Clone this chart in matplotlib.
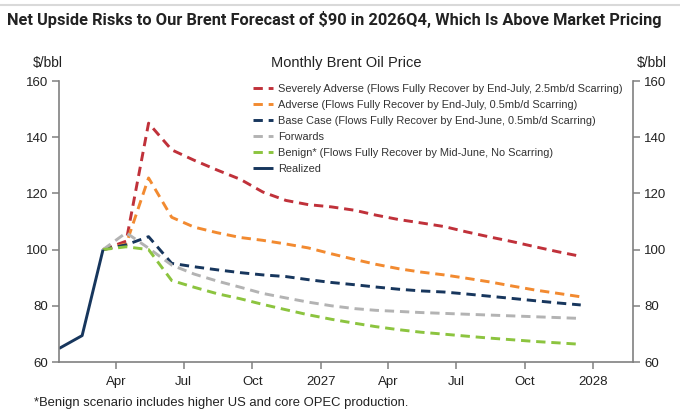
import matplotlib
matplotlib.use("Agg")
import matplotlib.pyplot as plt
import datetime as dt

# ---- data ----
realized_months = ["2026-01", "2026-02", "2026-03"]
realized = [64.8, 69.4, 100.0]

forecast_months = ["2026-03", "2026-04", "2026-05", "2026-06", "2026-07", "2026-08",
                   "2026-09", "2026-10", "2026-11", "2026-12", "2027-01", "2027-02",
                   "2027-03", "2027-04", "2027-05", "2027-06", "2027-07", "2027-08",
                   "2027-09", "2027-10", "2027-11", "2027-12"]
severely_adverse = [100, 103, 145, 135.5, 131.8, 128.3, 125, 120.5, 117.5, 116, 115.2, 114,
                    112.3, 110.7, 109.5, 108.2, 106.3, 104.5, 102.8, 101, 99.2, 97.6]
adverse = [100, 102, 125.5, 111.5, 108, 106, 104.3, 103.3, 102, 100.6, 98.5, 96.5,
           94.8, 93.2, 92, 91, 89.8, 88.5, 87, 85.6, 84.4, 83.2]
base_case = [100, 101.7, 104.6, 95.1, 93.9, 92.8, 91.8, 91, 90.4, 89.3, 88.3, 87.5,
             86.7, 85.9, 85.3, 84.9, 84.2, 83.4, 82.6, 81.8, 81, 80.3]
forwards = [100, 106, 100.5, 94.5, 91.3, 88.8, 86.6, 84.4, 82.8, 81.3, 80, 79,
            78.4, 78, 77.6, 77.3, 77, 76.7, 76.4, 76.1, 75.8, 75.5]
benign = [100, 101, 100, 89, 86.6, 84.3, 82.5, 80.5, 78.6, 76.8, 75.2, 73.8,
          72.6, 71.5, 70.6, 69.9, 69.2, 68.5, 67.9, 67.3, 66.8, 66.3]

labels = [
    "Severely Adverse (Flows Fully Recover by End-July, 2.5mb/d Scarring)",
    "Adverse (Flows Fully Recover by End-July, 0.5mb/d Scarring)",
    "Base Case (Flows Fully Recover by End-June, 0.5mb/d Scarring)",
    "Forwards",
    "Benign* (Flows Fully Recover by Mid-June, No Scarring)",
    "Realized",
]
tick_dates = ["2026-04", "2026-07", "2026-10", "2027-01", "2027-04", "2027-07", "2027-10", "2028-01"]
tick_labels = ["Apr", "Jul", "Oct", "2027", "Apr", "Jul", "Oct", "2028"]
yticks = [60, 80, 100, 120, 140, 160]

title = "Net Upside Risks to Our Brent Forecast of $90 in 2026Q4, Which Is Above Market Pricing"
subtitle = "Monthly Brent Oil Price"
footnote = "*Benign scenario includes higher US and core OPEC production."


def mid(m):
    y, mo = m.split("-")
    return dt.datetime(int(y), int(mo), 15)


def first(m):
    y, mo = m.split("-")
    return dt.datetime(int(y), int(mo), 1)


plt.rcParams["font.family"] = ["Liberation Sans", "DejaVu Sans"]

fig = plt.figure(figsize=(6.8, 4.15), dpi=100)
ax = fig.add_axes([59 / 680, 1 - 362 / 415, (633 - 59) / 680, (362 - 81) / 415])

fx = [mid(m) for m in forecast_months]
rx = [mid(m) for m in realized_months]

red = "#C0313A"
orange = "#F28A30"
navy = "#17365D"
gray = "#B3B3B3"
green = "#8CC43F"
lw = 2.1
dash = (3.2, 2.0)

series = [(severely_adverse, red), (adverse, orange), (base_case, navy),
          (forwards, gray), (benign, green)]
handles = []
for vals, c in series:
    h, = ax.plot(fx, vals, color=c, lw=lw, dashes=dash, solid_capstyle="butt", dash_capstyle="butt")
    handles.append(h)
h, = ax.plot(rx, realized, color=navy, lw=lw, solid_capstyle="butt")
handles.append(h)

ax.set_xlim(dt.datetime(2026, 1, 15), dt.datetime(2028, 2, 23))
ax.set_ylim(60, 160)
ax.set_yticks(yticks)
ax.set_xticks([first(m) for m in tick_dates])
ax.set_xticklabels(tick_labels)

spc = "#808080"
for s in ["left", "right", "bottom"]:
    ax.spines[s].set_color(spc)
    ax.spines[s].set_linewidth(1.2)
ax.spines["top"].set_visible(False)
ax.tick_params(axis="both", colors=spc, labelcolor="#222222", labelsize=9.5,
               length=5, width=1.1, direction="out")
ax.tick_params(axis="y", right=True, labelright=True, pad=3)
ax.tick_params(axis="x", pad=5)

leg = ax.legend(handles, labels, loc="upper left", bbox_to_anchor=(0.338, 0.989),
                frameon=False, fontsize=7.9, handlelength=1.85, handletextpad=0.45,
                labelspacing=0.55, borderpad=0, borderaxespad=0)
for t in leg.get_texts():
    t.set_color("#333333")

fig.text(7 / 680, 1 - 20 / 415, title, fontsize=11.8, fontweight="bold",
         family=["Roboto", "DejaVu Sans"], va="center", ha="left", color="#222222")
fig.add_artist(plt.Line2D([0, 1], [1 - 5 / 415, 1 - 5 / 415], color="#D9D9D9", lw=1.5))
fig.text(346 / 680, 1 - 63 / 415, subtitle, fontsize=10.5, ha="center", va="center", color="#222222")
fig.text(48 / 680, 1 - 63 / 415, "$/bbl", fontsize=10, ha="center", va="center", color="#222222")
fig.text(652 / 680, 1 - 63 / 415, "$/bbl", fontsize=10, ha="center", va="center", color="#222222")
fig.text(34 / 680, 1 - 403 / 415, footnote, fontsize=9.4, ha="left", va="center", color="#222222")

fig.savefig("out.png", dpi=100)
